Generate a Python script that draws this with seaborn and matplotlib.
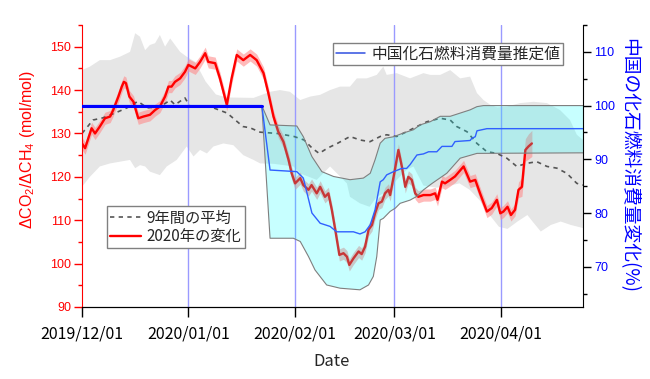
import matplotlib
matplotlib.use('Agg')
import matplotlib.pyplot as plt
from matplotlib.lines import Line2D
from matplotlib.ticker import MultipleLocator
import seaborn as sns
import pandas as pd
import numpy as np

start = pd.Timestamp('2019-12-01')
end_days = 146  # x axis runs to 2020/04/25

# 2020 ratio (left axis), days after 2019/12/01
red_days = [0, 0.9, 2.8, 3.8, 5.2, 6.7, 8.2, 9.1, 10.6, 11.6, 12.2, 12.8, 13.8, 15.0,
            16.4, 17.9, 19.8, 21.3, 22.7, 24.2, 25.2, 26.1, 27.1, 28.6, 30.0, 31.0,
            33.0, 34.4, 35.9, 36.8, 38.8, 40.2, 42.2, 43.6, 45.1, 47.0, 49.0, 50.9,
            52.9, 54.3, 55.8, 57.2, 58.7, 60.2, 61.1, 62.1, 63.6, 64.5, 66.0, 66.9,
            68.4, 69.4, 70.8, 71.8, 72.8, 73.8, 75.0, 76.2, 77.2, 77.9, 79.1, 80.6,
            81.5, 82.5, 83.5, 84.5, 85.4, 86.4, 87.4, 88.3, 89.3, 89.8, 90.8, 92.2,
            93.2, 94.2, 95.1, 96.1, 97.1, 98.0, 99.5, 101.5, 102.9, 103.6, 104.9,
            105.8, 107.3, 108.7, 111.2, 113.1, 114.6, 116.0, 118.0, 119.4, 120.9,
            121.9, 122.8, 124.0, 125.0, 126.2, 127.2, 128.2, 129.2, 130.1, 131.1]
red_vals = [127.7, 126.6, 131.2, 130.0, 131.6, 133.5, 133.9, 135.4, 138.5, 140.8, 141.9,
            141.6, 138.5, 137.3, 133.5, 133.9, 134.3, 135.4, 136.2, 138.5, 140.8, 140.8,
            141.9, 142.7, 144.2, 145.8, 145.0, 146.5, 148.5, 146.5, 146.2, 142.7, 136.6,
            142.7, 148.1, 146.9, 148.1, 146.9, 143.9, 139.3, 133.9, 130.4, 128.1, 123.9,
            120.8, 118.5, 119.7, 118.1, 117.0, 118.1, 116.2, 117.7, 115.4, 116.2, 112.4,
            107.8, 102.0, 102.4, 101.6, 99.7, 101.2, 102.8, 102.2, 103.9, 107.8, 108.9,
            111.6, 113.9, 114.3, 116.2, 117.0, 115.8, 120.0, 126.2, 122.4, 117.7, 120.0,
            119.3, 116.2, 115.4, 115.8, 115.8, 116.2, 114.7, 118.9, 118.5, 119.3, 120.1,
            122.4, 118.9, 119.3, 116.2, 112.0, 112.8, 114.7, 111.6, 112.0, 113.1, 111.2,
            112.4, 117.0, 117.7, 126.2, 127.0, 127.7]
red_err = [1.4] * 100 + [1.8, 2.2, 2.6, 2.9, 3.0]

# 9-year mean (left axis)
mean_days = [0, 3.2, 6.1, 10.5, 13.1, 16.3, 19.0, 22.7, 25.7, 27.1, 30.0, 31.5, 37.3,
             42.3, 46.9, 49.0, 51.9, 56.9, 61.8, 64.7, 67.1, 69.1, 71.5, 74.4, 78.1,
             81.0, 83.9, 86.9, 88.8, 91.7, 94.6, 97.6, 100.5, 104.4, 107.3, 109.2,
             112.2, 115.1, 118.0, 120.9, 123.8, 126.7, 129.6, 132.5, 135.5, 138.4,
             141.3, 144.2, 146.0]
mean_vals = [130.0, 133.1, 133.6, 135.0, 135.9, 137.4, 135.9, 136.1, 137.7, 136.6, 138.2,
             136.2, 136.2, 134.7, 131.6, 131.3, 130.3, 130.0, 129.3, 128.5, 126.6, 125.4,
             126.6, 127.7, 129.3, 128.5, 128.1, 129.3, 129.7, 129.3, 130.4, 131.6, 132.7,
             133.5, 133.1, 131.6, 130.4, 127.7, 125.8, 125.4, 124.3, 122.4, 123.1, 123.5,
             122.4, 122.0, 120.8, 118.5, 118.1]

# 9-year range (left axis)
gray_hi_days = [0, 2.3, 5.2, 8.2, 11.1, 14.0, 15.5, 16.9, 18.4, 19.8, 21.3, 22.7, 24.2,
                25.7, 27.1, 28.6, 30.5, 33.0, 36.0, 39.0, 42.0, 50.0, 54.8, 57.7, 60.6,
                63.6, 66.5, 69.4, 72.3, 75.2, 78.1, 80.1, 83.0, 85.9, 87.8, 88.8, 91.7,
                95.6, 99.5, 101.5, 104.4, 107.3, 110.2, 113.1, 115.1, 117.0, 119.0, 121.0,
                123.8, 127.7, 131.6, 135.5, 139.3, 142.2, 144.2, 146.0]
gray_hi = [144.6, 145.4, 146.9, 146.9, 147.7, 148.8, 153.1, 152.3, 149.2, 150.4, 150.8,
           152.7, 150.0, 151.9, 150.4, 148.8, 147.7, 146.5, 142.0, 139.0, 138.3, 138.2,
           139.6, 140.0, 139.6, 137.7, 138.5, 138.9, 140.0, 140.8, 140.8, 142.7, 142.7,
           143.5, 145.4, 143.5, 143.9, 142.7, 143.9, 143.5, 143.5, 144.6, 142.7, 143.1,
           139.3, 137.7, 136.6, 136.0, 136.2, 137.0, 137.3, 137.0, 135.4, 133.1, 129.7,
           128.5]
gray_lo_days = [0, 2.3, 5.2, 8.2, 11.1, 14.0, 15.5, 16.9, 18.4, 19.8, 22.7, 24.7, 27.6,
                30.5, 32.5, 34.4, 36.4, 38.3, 41.2, 44.1, 47.0, 50.0, 51.9, 56.0, 61.6,
                63.6, 68.4, 72.3, 77.2, 78.1, 81.0, 83.8, 85.9, 87.8, 89.8, 91.7, 94.6,
                96.6, 99.5, 103.4, 107.3, 110.0, 113.0, 116.0, 118.5, 121.5, 124.0, 126.9,
                129.8, 131.3, 133.7, 136.6, 139.5, 142.5, 146.0]
gray_lo = [117.7, 120.0, 122.4, 123.1, 123.5, 123.9, 122.0, 122.7, 122.4, 121.2, 120.4,
           122.4, 123.9, 127.0, 124.7, 126.2, 125.4, 127.0, 127.7, 127.3, 125.0, 123.9,
           123.1, 123.0, 122.4, 120.8, 119.3, 122.4, 118.5, 115.4, 113.9, 113.1, 115.4,
           116.2, 117.0, 119.3, 121.6, 122.4, 118.0, 117.5, 118.0, 118.5, 117.0, 114.5,
           111.5, 108.5, 108.0, 109.7, 111.2, 109.7, 107.4, 108.9, 109.7, 108.9, 108.2]

# China fossil fuel use estimate, % (right axis)
blue_days = [0, 52.4, 54.8, 62.6, 64.5, 67.0, 69.4, 72.3, 74.2, 79.1, 81.0, 82.5, 84.0,
             85.4, 86.9, 87.8, 88.8, 90.8, 93.2, 94.6, 95.6, 97.6, 99.5, 101.0, 103.4,
             104.9, 107.8, 108.7, 113.1, 113.6, 114.6, 115.1, 118.0, 146.0]
blue_vals = [100, 100, 88.0, 87.7, 86.5, 80.0, 78.1, 77.5, 76.5, 76.5, 76.1, 76.5, 77.8,
             80.6, 85.8, 86.2, 87.1, 87.7, 88.3, 88.3, 89.0, 90.8, 91.0, 91.4, 91.4,
             92.4, 92.4, 93.3, 93.5, 93.9, 94.2, 95.3, 95.7, 95.7]

cyan_hi_days = [52.4, 54.8, 62.6, 64.5, 67.0, 69.9, 73.3, 78.1, 82.0, 84.0, 85.4, 86.9,
                88.3, 90.8, 93.7, 96.6, 98.5, 101.5, 104.4, 107.3, 110.2, 113.1, 115.1,
                117.0, 146.0]
cyan_hi = [100.0, 96.4, 96.2, 94.2, 90.5, 87.7, 86.8, 86.2, 86.5, 87.4, 89.9, 93.0, 93.9,
           94.2, 94.9, 95.5, 96.4, 97.0, 98.0, 98.0, 98.6, 99.2, 99.8, 100.0, 100.0]
cyan_lo_days = [52.4, 54.8, 61.6, 63.6, 66.0, 67.9, 71.3, 75.2, 81.0, 83.5, 84.9, 85.9,
                86.9, 87.8, 89.8, 91.3, 92.7, 95.6, 97.6, 99.5, 102.0, 106.3, 110.2,
                115.1, 146.0]
cyan_lo = [100.0, 75.3, 75.3, 74.7, 71.9, 69.4, 66.6, 66.0, 65.7, 66.6, 68.2, 71.9, 78.7,
           79.0, 80.3, 80.9, 81.8, 82.4, 83.1, 84.3, 85.5, 87.4, 90.2, 91.1, 91.2]

month_ticks = ['2019-12-01', '2020-01-01', '2020-02-01', '2020-03-01', '2020-04-01']
tick_labels = ['2019/12/01', '2020/01/01', '2020/02/01', '2020/03/01', '2020/04/01']


def to_dates(days):
    return start + pd.to_timedelta(np.asarray(days, dtype=float), unit='D')


sns.set_style('ticks')
plt.rcParams['font.family'] = ['Liberation Sans', 'Noto Sans CJK JP', 'DejaVu Sans']
plt.rcParams['mathtext.fontset'] = 'custom'
plt.rcParams['mathtext.rm'] = 'Liberation Sans'
plt.rcParams['mathtext.it'] = 'Liberation Sans:italic'
jp = 'Noto Sans CJK JP'

fig = plt.figure(figsize=(6.5, 3.79), dpi=100)
ax = fig.add_axes([82 / 650, 1 - 307 / 379, 501 / 650, 282 / 379])
ax2 = ax.twinx()

# 9-year range band
gx = np.concatenate([to_dates(gray_hi_days), to_dates(gray_lo_days)[::-1]])
gy = np.concatenate([gray_hi, gray_lo[::-1]])
ax.fill(gx, gy, color='#e6e6e6', lw=0, zorder=1)

for m in month_ticks[1:]:
    ax.axvline(pd.Timestamp(m), color='#9a9aff', lw=1, zorder=1.5)

red_dates = to_dates(red_days)
red_arr = np.array(red_vals)
err_arr = np.array(red_err)
ax.fill_between(red_dates, red_arr - err_arr, red_arr + err_arr,
                color='#ff8c8c', alpha=0.6, lw=0, zorder=2)
sns.lineplot(x=to_dates(mean_days), y=mean_vals, ax=ax, color='#555555', lw=1.2,
             linestyle=(0, (2.6, 2.6)), zorder=2.5)
sns.lineplot(x=red_dates, y=red_vals, ax=ax, color='red', lw=1.7, zorder=3)

# estimate range band and line (right axis)
cx = np.concatenate([to_dates(cyan_hi_days), to_dates(cyan_lo_days)[::-1]])
cy = np.concatenate([cyan_hi, cyan_lo[::-1]])
ax2.fill(cx, cy, facecolor='#00ffff', alpha=0.22, edgecolor='none', zorder=1)
sns.lineplot(x=to_dates(cyan_hi_days), y=cyan_hi, ax=ax2, color='#7f7f7f', lw=0.8, zorder=2)
sns.lineplot(x=to_dates(cyan_lo_days), y=cyan_lo, ax=ax2, color='#7f7f7f', lw=0.8, zorder=2)
sns.lineplot(x=to_dates(blue_days), y=blue_vals, ax=ax2, color='#3060ff', lw=1.0, zorder=3)
sns.lineplot(x=to_dates(blue_days[:2]), y=blue_vals[:2], ax=ax2, color='#0000ff', lw=2.2,
             zorder=3)

ax.set_xlim(start, start + pd.Timedelta(days=end_days))
ax.set_ylim(90, 155)
ax2.set_ylim(62.5, 115)
ax.yaxis.set_major_locator(MultipleLocator(10))
ax.yaxis.set_minor_locator(MultipleLocator(5))
ax2.yaxis.set_major_locator(MultipleLocator(10))
ax2.yaxis.set_minor_locator(MultipleLocator(5))
ax.set_xticks(pd.to_datetime(month_ticks))
ax.set_xticklabels(tick_labels, fontsize=11.5, family=jp)
ax.set_ylabel('')
ax2.set_ylabel('')
ax.set_xlabel('')

for s in ['top', 'right']:
    ax.spines[s].set_visible(False)
for s in ['top', 'left']:
    ax2.spines[s].set_visible(False)
ax.spines['left'].set_color('red')
ax.spines['bottom'].set_color('black')
ax2.spines['right'].set_color('black')
ax2.spines['bottom'].set_color('black')

ax.tick_params(axis='x', which='major', direction='out', length=7, width=1, color='black',
               pad=6, labelcolor='black')
ax.tick_params(axis='y', which='major', direction='out', length=6, width=1, colors='red',
               labelsize=9, pad=2)
ax.tick_params(axis='y', which='minor', direction='out', length=3, width=1, colors='red')
ax2.tick_params(axis='y', which='major', direction='out', length=6, width=1, color='black',
                labelcolor='blue', labelsize=9, pad=2)
ax2.tick_params(axis='y', which='minor', direction='out', length=3, width=1, color='black')

fig.text(28 / 650, 1 - 150 / 379, r'$\Delta$CO$_2$/$\Delta$CH$_4$ (mol/mol)', color='red',
         rotation=90, ha='center', va='center', fontsize=11.5)
fig.text(629 / 650, 1 - 165 / 379, '中国の化石燃料消費量変化(%)', color='blue', family=jp,
         rotation=270, ha='center', va='center', fontsize=13.5)
fig.text(332 / 650, 1 - 361 / 379, 'Date', ha='center', va='center', fontsize=12, family=jp)

leg1 = ax2.legend(handles=[Line2D([], [], color='#555555', lw=1.2, linestyle=(0, (2.6, 2.6))),
                           Line2D([], [], color='red', lw=1.7)],
                  labels=['9年間の平均', '2020年の変化'], prop={'family': jp, 'size': 11},
                  loc='lower left', bbox_to_anchor=(0.05, 0.209), borderaxespad=0,
                  fancybox=False, framealpha=1, edgecolor='#808080', handlelength=2.0,
                  borderpad=0.2, labelspacing=0.1, handletextpad=0.4)
leg1.get_frame().set_linewidth(1)
ax2.add_artist(leg1)
leg2 = ax2.legend(handles=[Line2D([], [], color='#3050e0', lw=1.1)],
                  labels=['中国化石燃料消費量推定値'], prop={'family': jp, 'size': 11.3},
                  loc='upper right', bbox_to_anchor=(0.96, 0.936), borderaxespad=0,
                  fancybox=False, framealpha=1, edgecolor='#808080', handlelength=1.9,
                  borderpad=0.15, handletextpad=0.4)
leg2.get_frame().set_linewidth(1)

fig.savefig('out.png', dpi=100)
